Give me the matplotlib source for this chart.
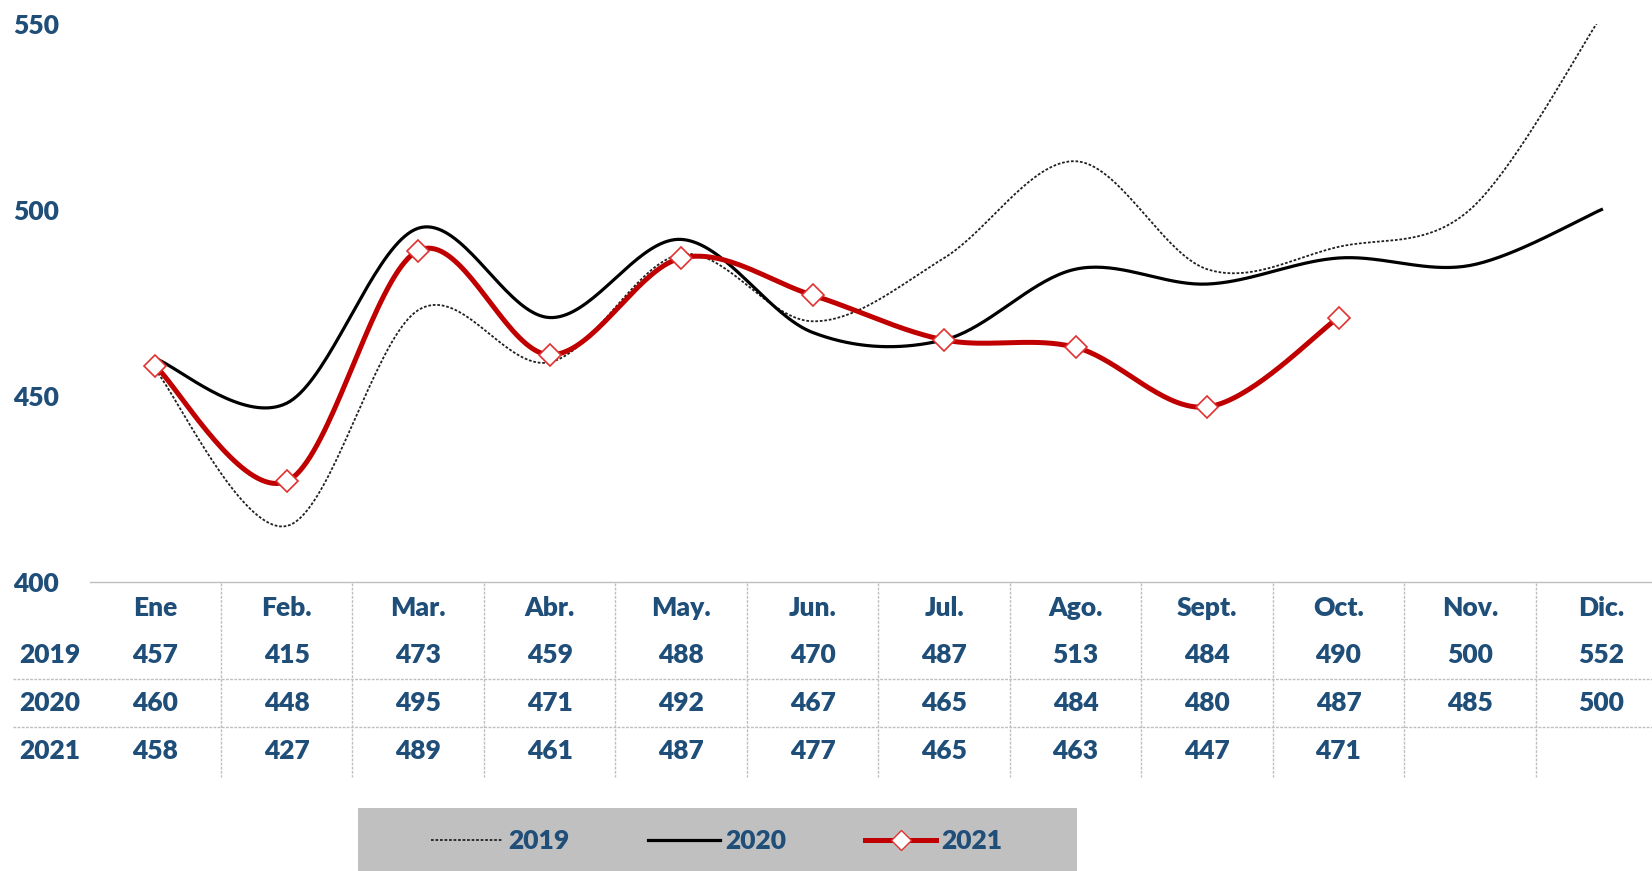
import numpy as np
import matplotlib.pyplot as plt
from matplotlib.patches import Rectangle
from matplotlib.lines import Line2D
from matplotlib.transforms import blended_transform_factory

plt.rcParams['font.family'] = ['Lato', 'DejaVu Sans']
plt.rcParams['font.weight'] = 'heavy'

months = ["Ene", "Feb.", "Mar.", "Abr.", "May.", "Jun.", "Jul.", "Ago.",
          "Sept.", "Oct.", "Nov.", "Dic."]
v2019 = [457, 415, 473, 459, 488, 470, 487, 513, 484, 490, 500, 552]
v2020 = [460, 448, 495, 471, 492, 467, 465, 484, 480, 487, 485, 500]
v2021 = [458, 427, 489, 461, 487, 477, 465, 463, 447, 471]
years = ["2019", "2020", "2021"]

TXT = '#1F4E79'
GRID = '#BFBFBF'
FS = 19


def smooth(ys, n=40):
    # excel-like smoothing: cubic bezier through the points (catmull-rom)
    pts = np.column_stack([np.arange(len(ys)), ys]).astype(float)
    ext = np.vstack([pts[0], pts, pts[-1]])
    out = []
    for i in range(len(pts) - 1):
        p0, p1, p2, p3 = ext[i], ext[i + 1], ext[i + 2], ext[i + 3]
        c1 = p1 + (p2 - p0) / 6.0
        c2 = p2 - (p3 - p1) / 6.0
        t = np.linspace(0, 1, n)[:, None]
        seg = ((1 - t) ** 3) * p1 + 3 * ((1 - t) ** 2) * t * c1 \
            + 3 * (1 - t) * t ** 2 * c2 + t ** 3 * p2
        out.append(seg if i == 0 else seg[1:])
    out = np.vstack(out)
    return out[:, 0], out[:, 1]


fig = plt.figure(figsize=(16.52, 8.71), dpi=100)
ax = fig.add_axes([0.0542, 0.332, 0.955, 0.641])

x, y = smooth(v2019)
ax.plot(x, y, color='#202020', lw=1.3, ls=(0, (1.5, 1.0)), zorder=2)
x, y = smooth(v2020)
ax.plot(x, y, color='black', lw=2.3, zorder=3)
x, y = smooth(v2021)
ax.plot(x, y, color='#C00000', lw=3.6, zorder=4)
ax.plot(np.arange(len(v2021)), v2021, ls='none', marker='D', ms=11,
        mfc='white', mec='#E03030', mew=1.2, zorder=5)

ax.set_xlim(-0.5, 11.5)
ax.set_ylim(400, 550)
ax.set_yticks([400, 450, 500, 550])
ax.set_xticks([])
for s in ['top', 'right', 'left']:
    ax.spines[s].set_visible(False)
ax.spines['bottom'].set_color(GRID)
ax.spines['bottom'].set_linestyle((0, (2, 1)))
ax.spines['bottom'].set_linewidth(1)
ax.tick_params(axis='y', length=0, pad=0, labelsize=FS, labelcolor=TXT)
for lab in ax.get_yticklabels():
    lab.set_horizontalalignment('left')
    lab.set_x(-0.0485)

# data table below the plot
tr = blended_transform_factory(ax.transData, fig.transFigure)
row_y = [1 - 655 / 871, 1 - 703 / 871, 1 - 751 / 871]
head_y = 1 - 608 / 871
for i, m in enumerate(months):
    ax.text(i, head_y, m, transform=tr, ha='center', va='center',
            fontsize=FS, color=TXT, clip_on=False)
for r, vals in enumerate([v2019, v2020, v2021]):
    fig.text(19 / 1652, row_y[r], years[r], ha='left', va='center',
             fontsize=FS, color=TXT)
    for i, v in enumerate(vals):
        ax.text(i, row_y[r], str(v), transform=tr, ha='center', va='center',
                fontsize=FS, color=TXT, clip_on=False)

for yy in [1 - 679 / 871, 1 - 727 / 871]:
    fig.add_artist(Line2D([13 / 1652, 1], [yy, yy], color=GRID, lw=1,
                          ls=(0, (2, 1))))
for i in range(1, 12):
    fig.add_artist(Line2D([i - 0.5, i - 0.5], [1 - 583 / 871, 1 - 777 / 871],
                          transform=tr, color=GRID, lw=1, ls=(0, (2, 1))))

# legend on a grey band
fig.add_artist(Rectangle((358 / 1652, 0), (1077 - 358) / 1652, 63 / 871,
                         transform=fig.transFigure, facecolor='#C0C0C0',
                         edgecolor='none', zorder=0))
handles = [
    Line2D([], [], color='#202020', lw=1.3, ls=(0, (1.5, 1.0))),
    Line2D([], [], color='black', lw=2.3),
    Line2D([], [], color='#C00000', lw=3.6, marker='D', ms=10,
           mfc='white', mec='#E03030'),
]
leg = fig.legend(handles, years, loc='center', ncol=3, frameon=False,
                 bbox_to_anchor=(717 / 1652, 1 - 841 / 871),
                 fontsize=FS, handlelength=2.7, handletextpad=0.2,
                 columnspacing=3.0, labelcolor=TXT)

fig.savefig('out.png', dpi=100)
